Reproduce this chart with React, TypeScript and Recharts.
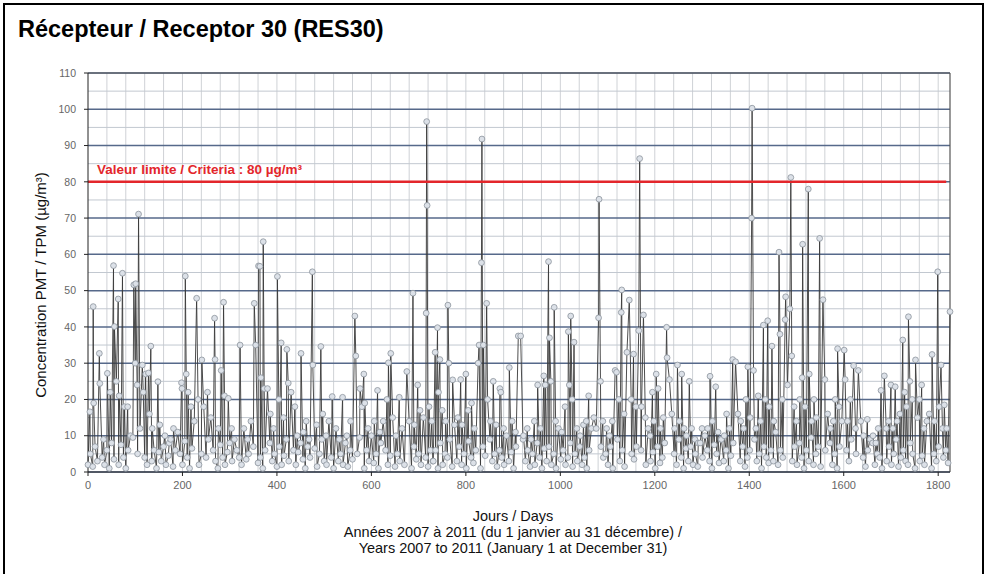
import { LineChart, Line, XAxis, YAxis, ReferenceLine } from 'recharts';

// peaks, [day] / [value] per year
const peakDays2007 = [4, 11, 12, 24, 25, 33, 41, 47, 54, 56, 60, 64, 66, 73, 77, 84, 90, 97, 100, 101, 104, 107, 110, 115, 117, 122, 128, 130, 133, 136, 148, 152, 163, 172, 181, 190, 198, 199, 206, 208, 212, 218, 225, 230, 233, 241, 245, 253, 260, 268, 269, 276, 282, 287, 289, 297, 304, 310, 322, 330, 338, 345, 352, 355, 361, 364];
const peakVals2007 = [16.6, 45.6, 19, 32.7, 24.4, 9, 27.2, 22, 56.9, 40.1, 25, 47.7, 21, 54.8, 18, 18, 10, 51.6, 30, 51.9, 24, 71.1, 12, 29.5, 22, 27, 27.3, 16, 34.7, 12, 24.9, 13, 10, 8, 12, 11, 24.6, 23, 54, 27, 22, 18, 14, 47.9, 20, 30.9, 18, 22, 15, 42.4, 31, 12, 28, 46.8, 21, 20.3, 12, 9, 35, 12, 9, 14, 46.5, 35, 56.8, 56.7];

const peakDays2008 = [366, 371, 373, 380, 386, 393, 401, 404, 409, 414, 421, 424, 430, 438, 443, 451, 456, 462, 468, 475, 476, 484, 493, 497, 504, 510, 517, 525, 532, 539, 548, 556, 565, 567, 576, 580, 584, 586, 593, 600, 606, 613, 618, 625, 633, 636, 641, 645, 652, 659, 665, 675, 680, 688, 691, 698, 703, 710, 716, 717, 718, 722, 728];
const peakVals2008 = [26, 63.5, 23, 23, 16, 12, 53.9, 20, 35.6, 15, 33.8, 24.5, 22, 18, 10, 32.7, 11, 14, 9, 55.2, 29.5, 13, 34.6, 16, 10, 14, 20.8, 12, 9, 20.6, 10, 14, 43, 32, 23, 18, 27, 19, 12, 10, 14, 22.5, 11, 14, 20, 30.1, 32.7, 15, 10, 20.6, 12, 27.7, 14, 49.3, 13, 24, 17, 15, 43.8, 96.6, 73.5, 18, 14];

const peakDays2009 = [735, 740, 742, 745, 750, 757, 762, 764, 772, 776, 783, 789, 792, 800, 805, 812, 818, 826, 828, 833, 834, 837, 844, 846, 852, 858, 864, 872, 874, 880, 886, 892, 898, 905, 911, 916, 922, 930, 938, 945, 952, 958, 965, 968, 975, 977, 980, 987, 990, 996, 1003, 1010, 1017, 1019, 1022, 1025, 1029, 1035, 1042, 1049, 1055, 1060, 1066, 1071, 1076, 1081, 1082, 1085, 1090];
const peakVals2009 = [33, 39.8, 22, 31, 17, 14, 46, 30, 25.4, 13, 15, 25.5, 13, 27, 17, 19, 12, 30, 35, 57.7, 91.8, 35, 46.5, 20, 14, 25, 13, 23, 22, 12, 10, 28.8, 14, 11, 37.5, 37.5, 10, 12, 9, 14, 24, 12, 26.5, 24, 58, 37, 25, 45.4, 14, 12, 11, 18, 38.7, 24, 43, 20, 35.8, 12, 10, 13, 14, 21, 12, 15, 12, 42.5, 75.2, 25, 14];

const peakDays2010 = [1098, 1104, 1110, 1116, 1119, 1124, 1129, 1130, 1135, 1141, 1146, 1150, 1155, 1160, 1166, 1168, 1172, 1176, 1180, 1186, 1190, 1195, 1198, 1203, 1207, 1212, 1218, 1225, 1226, 1231, 1236, 1242, 1248, 1252, 1257, 1262, 1267, 1273, 1278, 1285, 1292, 1300, 1306, 1312, 1317, 1322, 1329, 1334, 1340, 1347, 1352, 1358, 1365, 1371, 1376, 1382, 1388, 1393, 1397, 1402, 1405, 1406, 1409, 1414, 1419, 1424, 1430, 1434, 1439, 1442, 1448, 1452, 1456];
const peakVals2010 = [12, 10, 14, 28, 27.5, 20, 44, 50.2, 16, 33, 47.4, 20, 32.5, 18, 39, 86.4, 18, 43.3, 15, 12, 10, 22, 14, 27, 23, 12, 15, 39.9, 31.5, 25.5, 16, 12, 29.5, 14, 27, 12, 10, 25, 12, 9, 8, 12, 10, 12, 26.4, 14, 23.5, 11, 9, 10, 16, 12, 31, 30.4, 16, 14, 12, 20, 29, 15, 70, 100.3, 28, 12, 21, 14, 40.5, 20, 41.7, 18, 34.7, 14, 11];

const peakDays2011 = [1463, 1465, 1470, 1476, 1477, 1481, 1486, 1488, 1490, 1495, 1500, 1507, 1512, 1513, 1518, 1525, 1527, 1532, 1537, 1542, 1549, 1556, 1560, 1566, 1572, 1578, 1582, 1587, 1590, 1596, 1601, 1603, 1608, 1614, 1621, 1625, 1631, 1636, 1642, 1650, 1656, 1662, 1668, 1673, 1679, 1686, 1690, 1695, 1700, 1704, 1709, 1713, 1719, 1725, 1729, 1733, 1737, 1740, 1745, 1752, 1756, 1760, 1765, 1770, 1776, 1781, 1787, 1792, 1799, 1802, 1806, 1809, 1813, 1818, 1825];
const peakVals2011 = [60.6, 38, 20, 42, 48.3, 24, 45, 81.2, 32, 18, 14, 20, 26, 62.8, 18, 78, 27, 14, 20, 15, 64.4, 47.5, 25.5, 16, 12, 14, 20, 34, 18, 14, 33.6, 25.5, 14, 20, 29.3, 12, 28, 14, 10, 14.5, 9, 10, 8, 12, 22.5, 26.5, 12, 14, 24, 12, 23.5, 14, 16, 36.4, 22, 18, 42.8, 25, 20, 30.9, 15, 20, 24, 12, 14, 16, 32.4, 14, 55.2, 18, 29.5, 12, 18.5, 12, 44.2];

// low day-to-day readings (every 5th day)
const low2007 = [2, 5, 1.5, 7, 3, 9, 4, 2, 6, 1, 8, 3.5, 5, 2, 7.5, 4, 1, 6, 3, 9.5, 2.5, 5, 1.5, 7, 4, 2, 8, 3, 6, 1, 5.5, 3, 7, 2, 4.5, 9, 1.5, 6, 3, 5, 2, 8.5, 4, 1, 6.5, 3, 7, 2, 5, 1.5, 4, 9, 2.5, 6, 3, 1, 7.5, 4, 2, 5.5, 8, 3, 1.5, 6, 4, 2, 9, 3.5, 5, 1, 7, 4, 2.5];
const low2008 = [4, 1, 6, 2.5, 8, 3, 5, 1.5, 7, 2, 4.5, 9, 3, 1, 6, 2, 5.5, 8, 3.5, 1, 7, 4, 2, 6.5, 1.5, 5, 9, 3, 2, 6, 4, 1, 7.5, 3, 5, 2, 8, 1.5, 6, 3.5, 2, 5, 9.5, 4, 1, 6, 3, 7, 2.5, 5, 1, 8, 3, 6, 2, 4.5, 7, 1.5, 5, 3, 9, 2, 6, 4, 1, 7, 3.5, 5, 2, 8, 4, 1.5, 6, 3];
const low2009 = [3, 6, 1, 8, 2, 5, 4, 9, 1.5, 6, 3, 7, 2, 5, 1, 8.5, 4, 2.5, 6, 3, 1, 7, 4.5, 2, 9, 3, 5, 1.5, 6, 4, 2, 8, 3, 5.5, 1, 7, 2.5, 4, 9, 3, 6, 1.5, 5, 2, 8, 4, 1, 6.5, 3, 7, 2, 5, 1, 9, 3.5, 6, 2, 4, 8, 1.5, 5, 3, 7, 2, 4, 1, 6, 9.5, 3, 5, 2, 7, 4];
const low2010 = [5, 2, 7, 1, 4, 9, 3, 6, 1.5, 8, 2, 5, 3.5, 7, 1, 6, 4, 2, 9, 3, 5.5, 1, 7, 2.5, 4, 8, 1.5, 6, 3, 5, 2, 9, 4, 1, 6.5, 3, 7, 2, 5, 1.5, 8, 4, 2, 6, 3, 1, 7.5, 5, 2.5, 9, 3, 6, 1, 4.5, 8, 2, 5, 3, 7, 1.5, 4, 6, 2, 9, 3, 5, 1, 7, 4, 2.5, 6, 3, 1];
const low2011 = [2, 6, 4, 9, 1.5, 5, 3, 7, 2, 8, 4, 1, 6, 3, 9.5, 2, 5, 7, 1.5, 4, 6, 3, 8, 2, 5, 1, 7, 4, 2.5, 6, 3, 9, 1, 5, 2, 7.5, 4, 1.5, 6, 3, 8, 2, 5, 4, 1, 6.5, 3, 7, 2, 5, 9, 1.5, 4, 6, 3, 2, 8, 5, 1, 7, 3, 4.5, 2, 6, 9, 1, 5, 3, 7, 2, 4, 6, 2.5];
const yearStarts = [0, 365, 731, 1096, 1461];

const xTicks = [0, 200, 400, 600, 800, 1000, 1200, 1400, 1600, 1800];
const yTicks = [0, 10, 20, 30, 40, 50, 60, 70, 80, 90, 100, 110];
const minorY = [5, 15, 25, 35, 45, 55, 65, 75, 85, 95, 105];
const vGrid = [40, 80, 120, 160, 200, 240, 280, 320, 360, 400, 440, 480, 520, 560, 600, 640, 680, 720, 760, 800, 840, 880, 920, 960, 1000, 1040, 1080, 1120, 1160, 1200, 1240, 1280, 1320, 1360, 1400, 1440, 1480, 1520, 1560, 1600, 1640, 1680, 1720, 1760, 1800];

const peaks = [
  [peakDays2007, peakVals2007],
  [peakDays2008, peakVals2008],
  [peakDays2009, peakVals2009],
  [peakDays2010, peakVals2010],
  [peakDays2011, peakVals2011],
];
const lows = [low2007, low2008, low2009, low2010, low2011];

const data: { day: number; v: number }[] = [];
peaks.forEach(([days, vals], y) => {
  const seen = new Set<number>();
  days.forEach((d, i) => { data.push({ day: d, v: vals[i] }); seen.add(d); });
  lows[y].forEach((v, i) => {
    const d = yearStarts[y] + i * 5;
    if (!seen.has(d) && d <= 1825) data.push({ day: d, v });
  });
});
data.sort((a, b) => a.day - b.day);

const font = 'Arial, "Liberation Sans", Helvetica, sans-serif';

export default function App() {
  return (
    <div style={{ position: 'absolute', left: 0, top: 0, width: 986, height: 574, overflow: 'hidden', background: '#fff', fontFamily: font }}>
      <div style={{ position: 'absolute', left: 3, top: 3, width: 977, height: 620, border: '2px solid #000' }} />
      <div style={{ position: 'absolute', left: 18, top: 16, fontSize: 23.5, fontWeight: 'bold', color: '#000', whiteSpace: 'nowrap' }}>
        Récepteur / Receptor 30 (RES30)
      </div>

      <div style={{ position: 'absolute', left: 0, top: 0 }}>
        <LineChart width={986} height={574} data={data} margin={{ top: 73, right: 36, bottom: 82, left: 28 }}>
          {vGrid.map((x) => (
            <ReferenceLine key={'vx' + x} x={x} stroke="#cfd2d6" strokeWidth={1} />
          ))}
          {minorY.map((y) => (
            <ReferenceLine key={'my' + y} y={y} stroke="#c2c8d0" strokeWidth={1} />
          ))}
          {yTicks.map((y) => (
            <ReferenceLine key={'My' + y} y={y} stroke="#56698a" strokeWidth={1.5} />
          ))}
          <ReferenceLine y={110} stroke="#555" strokeWidth={1.2} />
          <ReferenceLine x={1825} stroke="#555" strokeWidth={1.2} />
          <XAxis
            type="number"
            dataKey="day"
            domain={[0, 1825]}
            ticks={xTicks}
            interval={0}
            height={20}
            tickSize={4}
            tickMargin={5}
            stroke="#222"
            tick={{ fontSize: 11, fill: '#666', fontFamily: font }}
          />
          <YAxis
            type="number"
            domain={[0, 110]}
            ticks={yTicks}
            interval={0}
            width={60}
            tickSize={4}
            tickMargin={8}
            stroke="#222"
            tick={{ fontSize: 10.5, fill: '#666', fontFamily: font }}
          />
          <Line
            type="linear"
            dataKey="v"
            stroke="#3a3a3a"
            strokeWidth={0.9}
            dot={{ r: 2.9, fill: '#dce1e8', stroke: '#8c939c', strokeWidth: 0.8 }}
            activeDot={false}
            isAnimationActive={false}
          />
          <ReferenceLine segment={[{ x: 0, y: 80 }, { x: 1817, y: 80 }]} stroke="#e3262b" strokeWidth={2.5} />
        </LineChart>
      </div>

      <div style={{ position: 'absolute', left: 97, top: 162, fontSize: 13.5, fontWeight: 'bold', color: '#e3262b', whiteSpace: 'nowrap' }}>
        Valeur limite / Criteria : 80 µg/m³
      </div>

      <div
        style={{
          position: 'absolute', left: 40, top: 285, fontSize: 15, color: '#111', whiteSpace: 'nowrap',
          transform: 'translate(-50%, -50%) rotate(-90deg)',
        }}
      >
        Concentration PMT / TPM (µg/m³)
      </div>

      <div style={{ position: 'absolute', left: 263, width: 500, top: 508, fontSize: 14.5, lineHeight: '16px', color: '#111', textAlign: 'center' }}>
        Jours / Days<br />
        Années 2007 à 2011 (du 1 janvier au 31 décembre) /<br />
        Years 2007 to 2011 (January 1 at December 31)
      </div>
    </div>
  );
}
